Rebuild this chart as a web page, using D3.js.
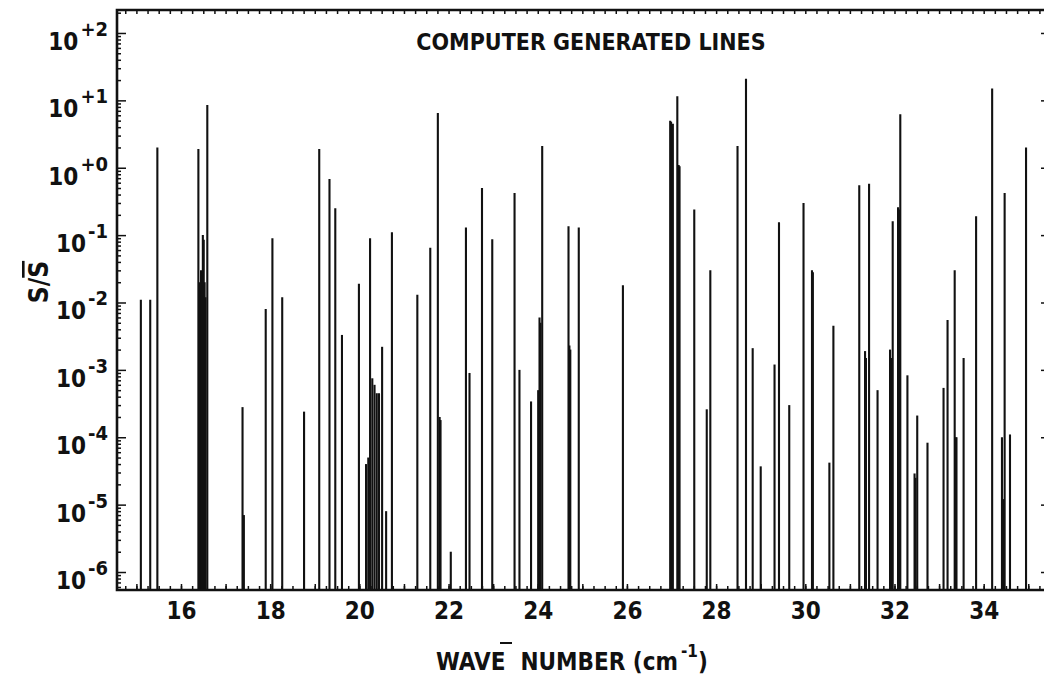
<!DOCTYPE html>
<html>
<head>
<meta charset="utf-8">
<script src="https://cdn.jsdelivr.net/npm/d3@7"></script>
<style>
  body { margin: 0; background: #fff; }
  text {
    font-family: 'DejaVu Sans Condensed', 'DejaVu Sans', sans-serif;
    font-stretch: condensed;
    font-weight: bold;
    fill: #111;
  }
</style>
</head>
<body>
<svg id="chart" width="1044" height="684"></svg>
<script>
// Line positions (cm^-1) and relative strengths S/S-bar
const waveNumbers = [
  15.10, 15.31, 15.47,
  16.39, 16.41, 16.43, 16.45, 16.47, 16.49, 16.51, 16.53, 16.55, 16.59,
  17.38, 17.41, 17.90, 18.05, 18.27, 18.76,
  19.10, 19.33, 19.46, 19.61, 19.99,
  20.15, 20.20, 20.24, 20.29, 20.34, 20.39, 20.44, 20.51, 20.60, 20.73,
  21.30, 21.59, 21.76, 21.80, 21.82, 22.05, 22.39, 22.47, 22.75, 22.98,
  23.48, 23.59, 23.85, 24.01, 24.04, 24.06, 24.10,
  24.69, 24.71, 24.73, 24.92, 25.91,
  26.97, 26.99, 27.03, 27.13, 27.16, 27.18, 27.51, 27.79, 27.87,
  28.48, 28.67, 28.82, 29.00, 29.31, 29.41, 29.64, 29.96, 30.15, 30.17,
  30.54, 30.63, 31.21, 31.34, 31.36, 31.43, 31.62, 31.90, 31.93, 31.96,
  32.08, 32.10, 32.13, 32.29, 32.45, 32.47, 32.51, 32.74,
  33.10, 33.19, 33.35, 33.37, 33.39, 33.55, 33.83,
  34.19, 34.41, 34.43, 34.45, 34.47, 34.59, 34.95
];
const strengths = [
  0.011, 0.011, 2.0,
  1.9, 0.02, 0.015, 0.03, 0.025, 0.1, 0.085, 0.02, 0.012, 8.5,
  2.8e-4, 7e-6, 0.008, 0.09, 0.012, 2.4e-4,
  1.9, 0.68, 0.25, 3.3e-3, 0.019,
  4e-5, 5e-5, 0.09, 7.5e-4, 6e-4, 4.5e-4, 4.5e-4, 2.2e-3, 8e-6, 0.11,
  0.013, 0.065, 6.5, 2e-4, 1.8e-4, 2e-6, 0.13, 9e-4, 0.5, 0.087,
  0.42, 1e-3, 3.4e-4, 5e-4, 6e-3, 5e-3, 2.1,
  0.135, 2.3e-3, 2e-3, 0.13, 0.018,
  5.0, 4.8, 4.5, 11.5, 1.1, 1.05, 0.24, 2.6e-4, 0.03,
  2.1, 21, 2.1e-3, 3.7e-5, 1.2e-3, 0.155, 3e-4, 0.30, 0.03, 0.028,
  4.2e-5, 4.5e-3, 0.55, 1.9e-3, 1.5e-3, 0.58, 5e-4, 2e-3, 1.5e-3, 0.16,
  0.26, 0.24, 6.2, 8.3e-4, 2.9e-5, 2.5e-5, 2.1e-4, 8.3e-5,
  5.4e-4, 5.5e-3, 0.03, 1e-4, 1e-4, 1.5e-3, 0.19,
  15, 1e-4, 1.2e-5, 1.2e-5, 0.42, 1.1e-4, 2.0
];
const xTickValues = [16, 18, 20, 22, 24, 26, 28, 30, 32, 34];
const yDecades = [2, 1, 0, -1, -2, -3, -4, -5, -6];

const svg = d3.select('#chart');
const frame = { left: 117, right: 1047, top: 10, bottom: 590 };

const x = d3.scaleLinear().domain([14.565, 35.42]).range([frame.left, frame.right]);
const y = d3.scaleLog()
  .domain([Math.pow(10, -6.267), Math.pow(10, 2.341)])
  .range([frame.bottom, frame.top]);

const ink = '#111';

// spectral lines
svg.append('g')
  .selectAll('line')
  .data(waveNumbers.map((w, i) => ({ w, s: strengths[i] })))
  .join('line')
  .attr('x1', d => x(d.w)).attr('x2', d => x(d.w))
  .attr('y1', frame.bottom).attr('y2', d => y(d.s))
  .attr('stroke', ink).attr('stroke-width', 2.1);

// tick sets
const logTicks = y.ticks();
const majorLog = logTicks.filter(v => Math.abs(Math.log10(v) - Math.round(Math.log10(v))) < 1e-9);
const minorLog = logTicks.filter(v => !majorLog.includes(v));
const quarterTicks = d3.range(14.75, 35.3, 0.25);
const unitTicks = d3.range(15, 36, 1);

function styleAxis(g) {
  g.selectAll('path.domain').remove();
  g.selectAll('line').attr('stroke', ink).attr('stroke-width', 1.5);
}

// left axis ticks (inward)
svg.append('g').attr('transform', `translate(${frame.left},0)`)
  .call(d3.axisLeft(y).tickValues(minorLog).tickSize(-4).tickFormat(''))
  .call(styleAxis);
svg.append('g').attr('transform', `translate(${frame.left},0)`)
  .call(d3.axisLeft(y).tickValues(majorLog).tickSize(-9).tickFormat(''))
  .call(styleAxis);

// right axis ticks (inward)
svg.append('g').attr('transform', `translate(${frame.right},0)`)
  .call(d3.axisRight(y).tickValues(majorLog).tickSize(-6).tickFormat(''))
  .call(styleAxis);

// top axis ticks (inward)
svg.append('g').attr('transform', `translate(0,${frame.top})`)
  .call(d3.axisTop(x).tickValues(quarterTicks).tickSize(-4).tickFormat(''))
  .call(styleAxis);

// bottom axis ticks (inward)
svg.append('g').attr('transform', `translate(0,${frame.bottom})`)
  .call(d3.axisBottom(x).tickValues(quarterTicks).tickSize(-4).tickFormat(''))
  .call(styleAxis);
svg.append('g').attr('transform', `translate(0,${frame.bottom})`)
  .call(d3.axisBottom(x).tickValues(unitTicks).tickSize(-6).tickFormat(''))
  .call(styleAxis);

// x tick labels
svg.append('g').attr('transform', `translate(0,${frame.bottom})`)
  .call(d3.axisBottom(x).tickValues(xTickValues).tickSize(0).tickPadding(12)
    .tickFormat(d3.format('d')))
  .call(g => g.select('path.domain').remove())
  .call(g => g.selectAll('text')
    .style('font-size', '24px')
    .style('font-family', "'DejaVu Sans Condensed','DejaVu Sans',sans-serif")
    .attr('fill', ink));

// frame
svg.append('path')
  .attr('d', `M${frame.right},${frame.top}H${frame.left}V${frame.bottom}H${frame.right}`)
  .attr('fill', 'none').attr('stroke', ink).attr('stroke-width', 2.6);

// y tick labels: 10 with signed exponent
const yLab = svg.append('g')
  .selectAll('text')
  .data(yDecades)
  .join('text')
  .attr('x', 108)
  .attr('y', d => y(Math.pow(10, d)) + 17)
  .attr('text-anchor', 'end')
  .style('font-size', '24px');
yLab.append('tspan').text('10');
yLab.append('tspan')
  .attr('dy', -14)
  .attr('dx', 2)
  .style('font-size', '20px')
  .text(d => (d >= 0 ? '+' : '-') + Math.abs(d));

// title
svg.append('text')
  .attr('x', 591).attr('y', 50)
  .attr('text-anchor', 'middle')
  .style('font-size', '23px')
  .text('COMPUTER GENERATED LINES');

// x axis title
const xt = svg.append('text')
  .attr('x', 572).attr('y', 670)
  .attr('text-anchor', 'middle')
  .style('font-size', '24px')
  .style('white-space', 'pre');
xt.append('tspan').text('WAVE  NUMBER (cm');
xt.append('tspan').attr('dy', -13).attr('dx', 3).style('font-size', '17px').text('-1');
xt.append('tspan').attr('dy', 13).text(')');

// bar over the wave number symbol
svg.append('line')
  .attr('x1', 500).attr('x2', 512).attr('y1', 643).attr('y2', 643)
  .attr('stroke', ink).attr('stroke-width', 2);

// y axis title: S / S-bar
const yt = svg.append('text')
  .attr('transform', 'translate(48,282) rotate(-90)')
  .attr('text-anchor', 'middle')
  .style('font-size', '26px');
yt.append('tspan').text('S/');
yt.append('tspan').style('text-decoration', 'overline').text('S');
</script>
</body>
</html>
